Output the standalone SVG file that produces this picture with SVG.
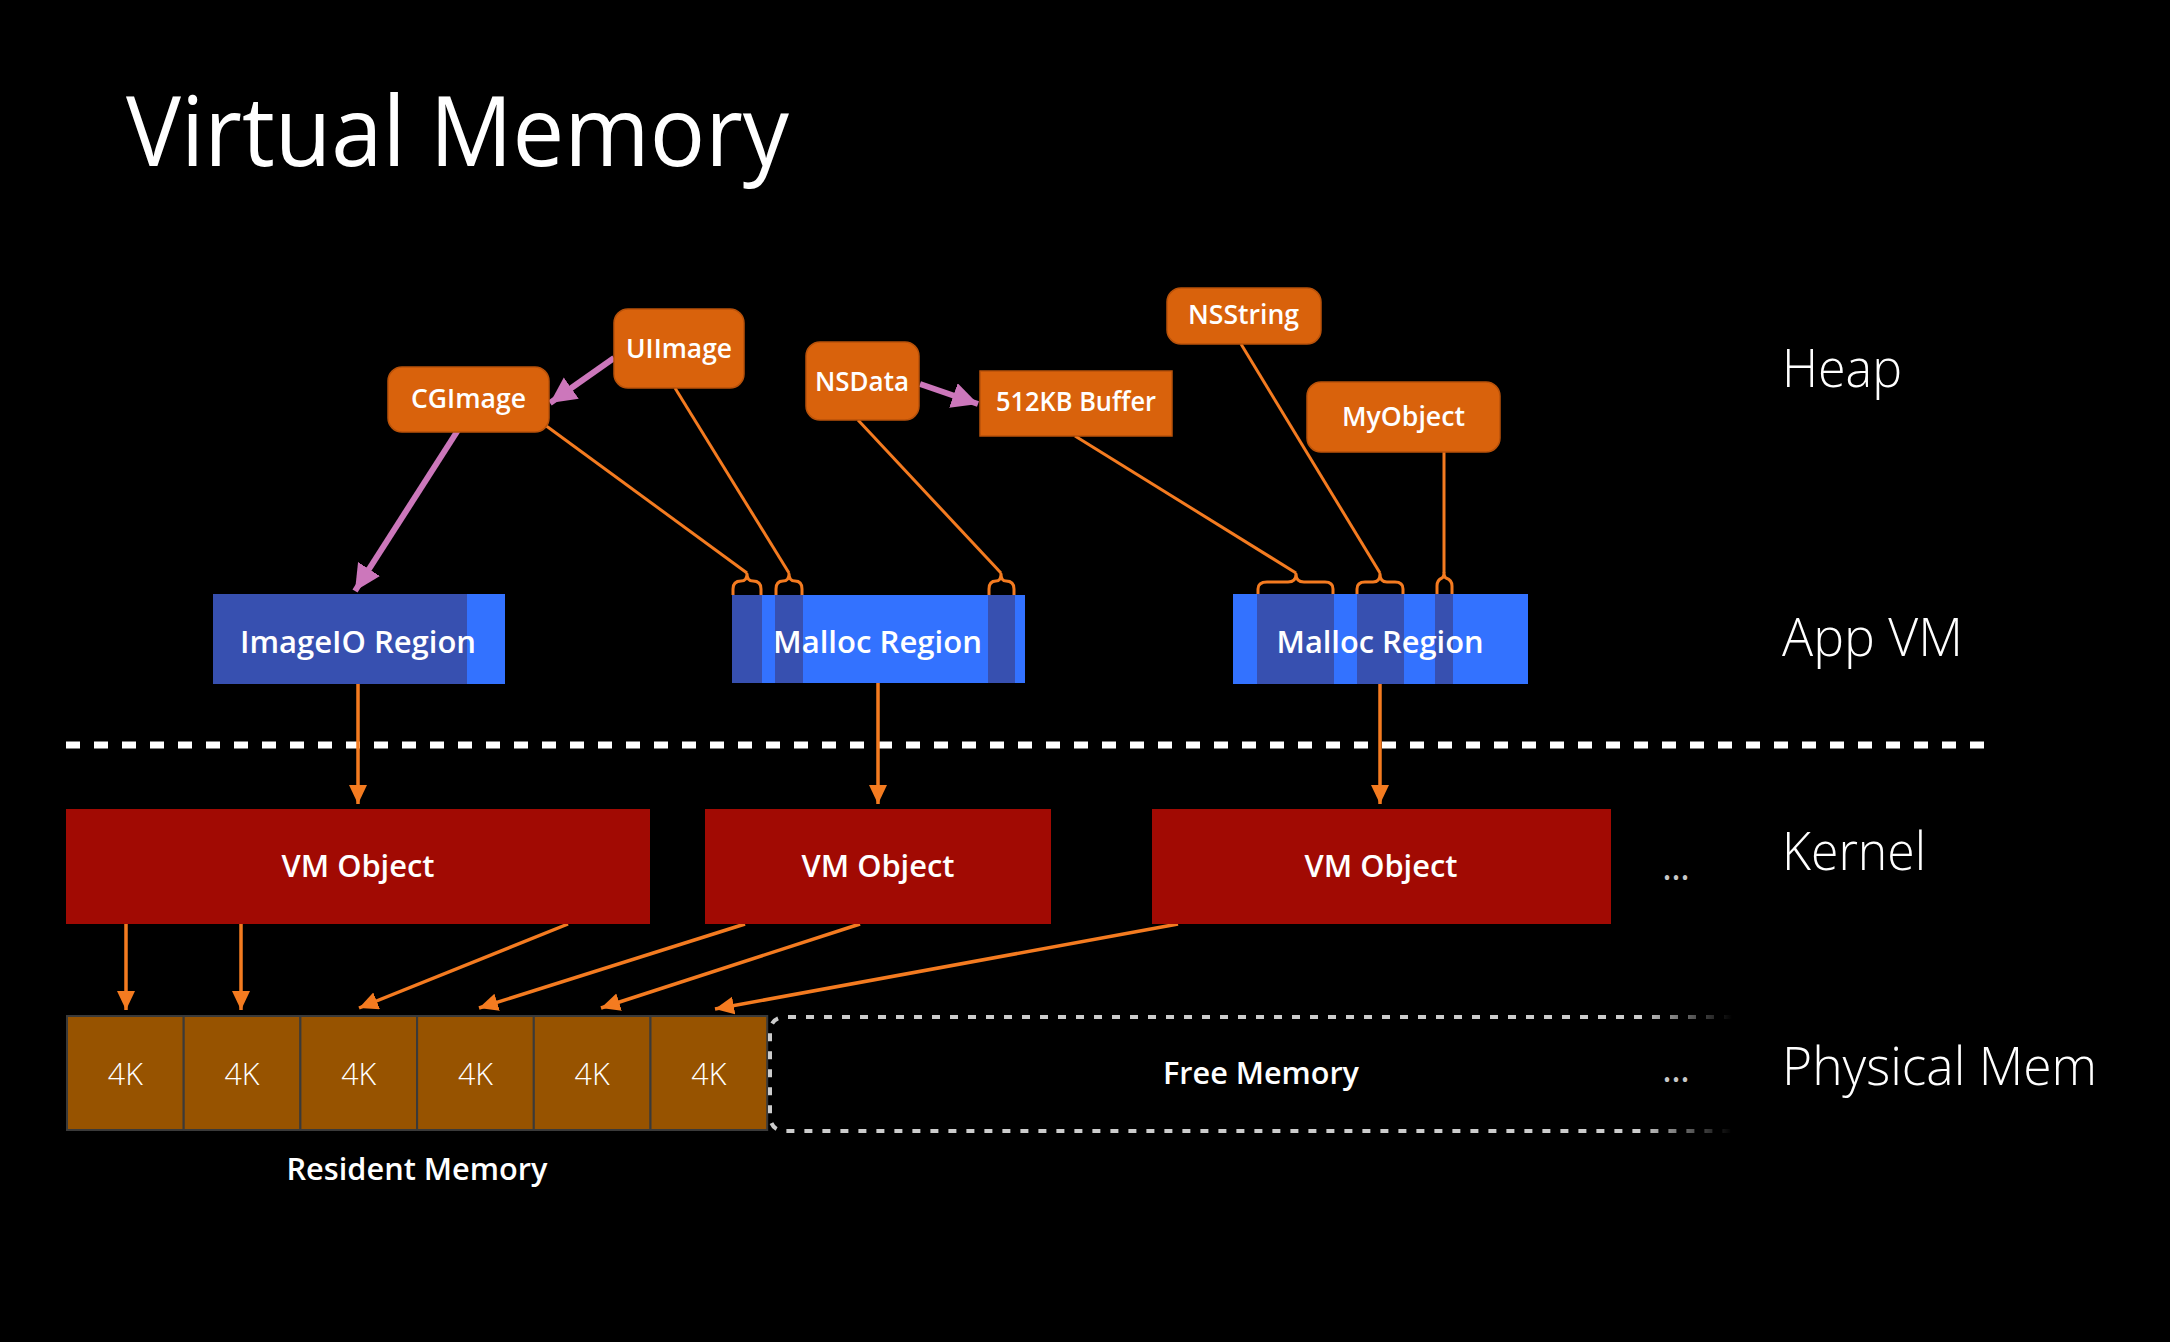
<svg xmlns="http://www.w3.org/2000/svg" width="2170" height="1342" viewBox="0 0 2170 1342">
  <defs>
    <style>
      .sans { font-family: "Open Sans", "Noto Sans", "Liberation Sans", sans-serif; }
      .heapObj { fill: #D9620C; stroke: #B9520A; stroke-width: 1.5; }
      .heapLbl { font-family: "Open Sans", "Noto Sans", "Liberation Sans", sans-serif; font-size: 27px; font-weight: 600; fill: #FFFFFF; text-anchor: middle; }
      .regionLight { fill: #3372FF; }
      .regionDark { fill: #3750B0; }
      .regionLbl { font-family: "Open Sans", "Noto Sans", "Liberation Sans", sans-serif; font-size: 31px; font-weight: 600; fill: #FFFFFF; text-anchor: middle; }
      .vmObj { fill: #A10A03; }
      .page { fill: #975300; stroke: #3A3A3A; stroke-width: 2; }
      .pageLbl { font-family: "Open Sans", "Noto Sans", "Liberation Sans", sans-serif; font-size: 32px; font-weight: 300; fill: #FFFFFF; text-anchor: middle; }
      .layerLbl { font-family: "Open Sans", "Noto Sans", "Liberation Sans", sans-serif; font-size: 54px; font-weight: 300; fill: #FFFFFF; }
      .ref { fill: none; stroke: #F47B20; stroke-width: 3; stroke-linejoin: round; }
      .arrow { fill: none; stroke: #F47B20; stroke-width: 3.5; marker-end: url(#orangeHead); }
      .pink { fill: none; stroke: #CC77BB; stroke-width: 6; marker-end: url(#pinkHead); }
      .more { font-family: "Open Sans", "Noto Sans", "Liberation Sans", sans-serif; font-size: 38px; fill: #C8C8C8; text-anchor: middle; }
    </style>
    <marker id="orangeHead" markerUnits="userSpaceOnUse" markerWidth="20" markerHeight="20" refX="19" refY="9" orient="auto">
      <path d="M0,0 L19,9 L0,18 z" fill="#F47B20"/>
    </marker>
    <marker id="pinkHead" markerUnits="userSpaceOnUse" markerWidth="28" markerHeight="28" refX="26" refY="13" orient="auto">
      <path d="M0,0 L26,13 L0,26 z" fill="#CC77BB"/>
    </marker>
    <linearGradient id="freeFade" gradientUnits="userSpaceOnUse" x1="1640" y1="0" x2="1732" y2="0">
      <stop offset="0" stop-color="#CCCCCC" stop-opacity="1"/>
      <stop offset="1" stop-color="#CCCCCC" stop-opacity="0"/>
    </linearGradient>
  </defs>

  <rect x="0" y="0" width="2170" height="1342" fill="#000000"/>

  <!-- title -->
  <text x="126" y="166" class="sans" font-size="97" fill="#FFFFFF" textLength="663" lengthAdjust="spacingAndGlyphs">Virtual Memory</text>

  <!-- layer labels -->
  <text x="1782" y="387" class="layerLbl" textLength="120" lengthAdjust="spacingAndGlyphs">Heap</text>
  <text x="1782" y="656" class="layerLbl" textLength="181" lengthAdjust="spacingAndGlyphs">App VM</text>
  <text x="1782" y="870" class="layerLbl" textLength="144" lengthAdjust="spacingAndGlyphs">Kernel</text>
  <text x="1782" y="1085" class="layerLbl" textLength="315" lengthAdjust="spacingAndGlyphs">Physical Mem</text>

  <!-- user / kernel boundary -->
  <line x1="66" y1="745" x2="1986" y2="745" stroke="#FFFFFF" stroke-width="7" stroke-dasharray="14 14"/>

  <!-- connectors -->
  <g id="connectors">
    <!-- heap object to region braces -->
    <path class="ref" d="M545,425 L747,573"/>
    <path class="ref" d="M733,595 L733,589 Q733,581 741,581 Q747,581 747,574 Q747,581 753,581 Q761,581 761,589 L761,595"/>
    <path class="ref" d="M675,388 L789,573"/>
    <path class="ref" d="M776,595 L776,589 Q776,581 783,581 Q789,581 789,574 Q789,581 795,581 Q802,581 802,589 L802,595"/>
    <path class="ref" d="M858,420 L1001,573"/>
    <path class="ref" d="M989,595 L989,589 Q989,581 996,581 Q1001,581 1001,574 Q1001,581 1006,581 Q1014,581 1014,589 L1014,595"/>
    <path class="ref" d="M1075,436 L1296,573"/>
    <path class="ref" d="M1258,594 L1258,589 Q1258,582 1267,582 L1288,582 Q1296,582 1296,574 Q1296,582 1304,582 L1325,582 Q1333,582 1333,589 L1333,594"/>
    <path class="ref" d="M1241,344 L1380,573"/>
    <path class="ref" d="M1357,594 L1357,589 Q1357,582 1365,582 L1373,582 Q1380,582 1380,574 Q1380,582 1387,582 L1395,582 Q1403,582 1403,589 L1403,594"/>
    <path class="ref" d="M1444,452 L1444,573"/>
    <path class="ref" d="M1437,594 L1437,586 Q1437,580 1442,578 Q1444,577 1444,573 Q1444,577 1446,578 Q1452,580 1452,586 L1452,594"/>

    <!-- object references between heap objects -->
    <path class="pink" d="M614,358 L550,403"/>
    <path class="pink" d="M460,427 L355,591"/>
    <path class="pink" d="M920,384 L978,404"/>

    <!-- regions to VM objects -->
    <path class="arrow" d="M358,684 L358,804"/>
    <path class="arrow" d="M878,683 L878,804"/>
    <path class="arrow" d="M1380,684 L1380,804"/>

    <!-- VM objects to resident pages -->
    <path class="arrow" d="M126,924 L126,1010"/>
    <path class="arrow" d="M241,924 L241,1010"/>
    <path class="arrow" d="M568,924 L359,1008"/>
    <path class="arrow" d="M745,924 L479,1008"/>
    <path class="arrow" d="M860,924 L601,1008"/>
    <path class="arrow" d="M1178,924 L715,1009"/>
  </g>

  <!-- heap objects -->
  <g id="uiimage">
    <rect class="heapObj" x="614" y="309" width="130" height="79" rx="14"/>
    <text class="heapLbl" x="679" y="358" textLength="106" lengthAdjust="spacingAndGlyphs">UIImage</text>
  </g>
  <g id="cgimage">
    <rect class="heapObj" x="388" y="367" width="161" height="65" rx="14"/>
    <text class="heapLbl" x="468.5" y="408" textLength="115" lengthAdjust="spacingAndGlyphs">CGImage</text>
  </g>
  <g id="nsdata">
    <rect class="heapObj" x="806" y="342" width="113" height="78" rx="14"/>
    <text class="heapLbl" x="862" y="391" textLength="94" lengthAdjust="spacingAndGlyphs">NSData</text>
  </g>
  <g id="buffer">
    <rect class="heapObj" x="980" y="371" width="192" height="65"/>
    <text class="heapLbl" x="1076" y="411" textLength="160" lengthAdjust="spacingAndGlyphs">512KB Buffer</text>
  </g>
  <g id="nsstring">
    <rect class="heapObj" x="1167" y="288" width="154" height="56" rx="14"/>
    <text class="heapLbl" x="1243.5" y="324" textLength="111" lengthAdjust="spacingAndGlyphs">NSString</text>
  </g>
  <g id="myobject">
    <rect class="heapObj" x="1307" y="382" width="193" height="70" rx="14"/>
    <text class="heapLbl" x="1403.5" y="426" textLength="123" lengthAdjust="spacingAndGlyphs">MyObject</text>
  </g>

  <!-- VM regions -->
  <g id="imageio-region">
    <rect class="regionLight" x="213" y="594" width="292" height="90"/>
    <rect class="regionDark" x="213" y="594" width="254" height="90"/>
    <text class="regionLbl" x="358" y="653" textLength="236" lengthAdjust="spacingAndGlyphs">ImageIO Region</text>
  </g>
  <g id="malloc-region-1">
    <rect class="regionLight" x="732" y="595" width="293" height="88"/>
    <rect class="regionDark" x="732" y="595" width="30" height="88"/>
    <rect class="regionDark" x="775" y="595" width="28" height="88"/>
    <rect class="regionDark" x="988" y="595" width="27" height="88"/>
    <text class="regionLbl" x="877.5" y="653" textLength="209" lengthAdjust="spacingAndGlyphs">Malloc Region</text>
  </g>
  <g id="malloc-region-2">
    <rect class="regionLight" x="1233" y="594" width="295" height="90"/>
    <rect class="regionDark" x="1257" y="594" width="77" height="90"/>
    <rect class="regionDark" x="1357" y="594" width="47" height="90"/>
    <rect class="regionDark" x="1435" y="594" width="18" height="90"/>
    <text class="regionLbl" x="1380" y="653" textLength="207" lengthAdjust="spacingAndGlyphs">Malloc Region</text>
  </g>

  <!-- kernel VM objects -->
  <g id="vm-object-1">
    <rect class="vmObj" x="66" y="809" width="584" height="115"/>
    <text class="regionLbl" x="358" y="877" textLength="153" lengthAdjust="spacingAndGlyphs">VM Object</text>
  </g>
  <g id="vm-object-2">
    <rect class="vmObj" x="705" y="809" width="346" height="115"/>
    <text class="regionLbl" x="878" y="877" textLength="153" lengthAdjust="spacingAndGlyphs">VM Object</text>
  </g>
  <g id="vm-object-3">
    <rect class="vmObj" x="1152" y="809" width="459" height="115"/>
    <text class="regionLbl" x="1381" y="877" textLength="153" lengthAdjust="spacingAndGlyphs">VM Object</text>
  </g>
  <text class="more" x="1676" y="880" textLength="28" lengthAdjust="spacing">...</text>

  <!-- physical pages -->
  <g id="resident-pages">
    <rect class="page" x="67" y="1016" width="116.7" height="114"/>
    <rect class="page" x="183.7" y="1016" width="116.7" height="114"/>
    <rect class="page" x="300.4" y="1016" width="116.7" height="114"/>
    <rect class="page" x="417.1" y="1016" width="116.7" height="114"/>
    <rect class="page" x="533.8" y="1016" width="116.7" height="114"/>
    <rect class="page" x="650.5" y="1016" width="116.7" height="114"/>
    <text class="pageLbl" x="125.3" y="1085" textLength="35" lengthAdjust="spacingAndGlyphs">4K</text>
    <text class="pageLbl" x="242" y="1085" textLength="35" lengthAdjust="spacingAndGlyphs">4K</text>
    <text class="pageLbl" x="358.7" y="1085" textLength="35" lengthAdjust="spacingAndGlyphs">4K</text>
    <text class="pageLbl" x="475.4" y="1085" textLength="35" lengthAdjust="spacingAndGlyphs">4K</text>
    <text class="pageLbl" x="592.1" y="1085" textLength="35" lengthAdjust="spacingAndGlyphs">4K</text>
    <text class="pageLbl" x="708.8" y="1085" textLength="35" lengthAdjust="spacingAndGlyphs">4K</text>
  </g>
  <text class="regionLbl" x="417" y="1180" textLength="261" lengthAdjust="spacingAndGlyphs">Resident Memory</text>

  <g id="free-memory">
    <path d="M1732,1017 L786,1017 Q770,1017 770,1033 L770,1115 Q770,1131 786,1131 L1732,1131" fill="none" stroke="url(#freeFade)" stroke-width="4" stroke-dasharray="8 10"/>
    <text class="regionLbl" x="1261" y="1084" font-size="30" textLength="196" lengthAdjust="spacingAndGlyphs">Free Memory</text>
  </g>
  <text class="more" x="1676" y="1082" textLength="28" lengthAdjust="spacing">...</text>
</svg>
